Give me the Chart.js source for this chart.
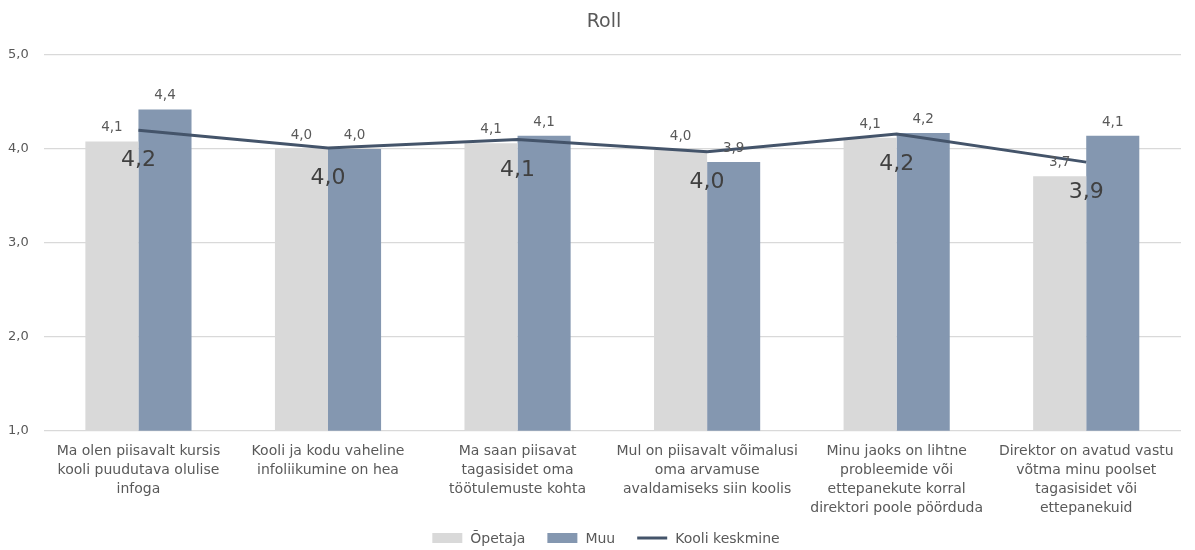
<!DOCTYPE html>
<html>
<head>
<meta charset="utf-8">
<script src="https://cdn.jsdelivr.net/npm/chart.js@4/dist/chart.umd.min.js"></script>
<style>
  html, body { margin: 0; padding: 0; background: #fff; }
  #wrap { width: 1195px; height: 550px; position: relative; }
</style>
</head>
<body>
<div id="wrap"><canvas id="chart"></canvas></div>
<script>
  // ── Data ──
  const categories = [
    ['Ma olen piisavalt kursis', 'kooli puudutava olulise', 'infoga'],
    ['Kooli ja kodu vaheline', 'infoliikumine on hea'],
    ['Ma saan piisavat', 'tagasisidet oma', 'töötulemuste kohta'],
    ['Mul on piisavalt võimalusi', 'oma arvamuse', 'avaldamiseks siin koolis'],
    ['Minu jaoks on lihtne', 'probleemide või', 'ettepanekute korral', 'direktori poole pöörduda'],
    ['Direktor on avatud vastu', 'võtma minu poolset', 'tagasisidet või', 'ettepanekuid']
  ];
  const opetaja = [4.08, 4.0, 4.06, 3.99, 4.12, 3.71];
  const muu = [4.42, 4.0, 4.14, 3.86, 4.17, 4.14];
  const kooliKeskmine = [4.2, 4.01, 4.1, 3.97, 4.16, 3.86];
  const yTicks = [1, 2, 3, 4, 5];
  const chartTitle = 'Roll';

  const FONT = '"DejaVu Sans", sans-serif';
  const fmt = v => v.toFixed(1).replace('.', ',');

  // value labels: small ones above bars, large ones under the line points
  const valueLabels = {
    id: 'valueLabels',
    afterDatasetsDraw(chart) {
      const ctx = chart.ctx;
      ctx.save();
      ctx.textAlign = 'center';
      ctx.textBaseline = 'alphabetic';
      chart.data.datasets.forEach((ds, i) => {
        const meta = chart.getDatasetMeta(i);
        meta.data.forEach((el, j) => {
          const v = ds.data[j];
          if (ds.type === 'line') {
            ctx.font = '22px ' + FONT;
            ctx.fillStyle = '#404040';
            ctx.fillText(fmt(v), el.x, el.y + 36);
          } else {
            ctx.font = '13.5px ' + FONT;
            ctx.fillStyle = '#595959';
            ctx.fillText(fmt(v), el.x, el.y - 10);
          }
        });
      });
      ctx.restore();
    }
  };

  // title + legend drawn by hand, placed like the Excel original
  const decorations = {
    id: 'decorations',
    afterDraw(chart) {
      const ctx = chart.ctx;
      ctx.save();
      ctx.font = '19px ' + FONT;
      ctx.fillStyle = '#595959';
      ctx.textAlign = 'center';
      ctx.textBaseline = 'middle';
      ctx.fillText(chartTitle, 604, 22);

      const dsList = [chart.data.datasets[1], chart.data.datasets[2], chart.data.datasets[0]];
      const y = 538, sym = 30, gapText = 8, gapItem = 22;
      ctx.font = '14px ' + FONT;
      ctx.textAlign = 'left';
      const widths = dsList.map(ds => sym + gapText + ctx.measureText(ds.label).width);
      const total = widths.reduce((a, b) => a + b, 0) + gapItem * (dsList.length - 1);
      let x = 606 - total / 2;
      dsList.forEach((ds, i) => {
        if (ds.type === 'line') {
          ctx.strokeStyle = ds.borderColor;
          ctx.lineWidth = 3;
          ctx.beginPath();
          ctx.moveTo(x, y);
          ctx.lineTo(x + sym, y);
          ctx.stroke();
        } else {
          ctx.fillStyle = ds.backgroundColor;
          ctx.fillRect(x, y - 5, sym, 10);
        }
        ctx.fillStyle = '#595959';
        ctx.fillText(ds.label, x + sym + gapText, y + 1);
        x += widths[i] + gapItem;
      });
      ctx.restore();
    }
  };

  new Chart(document.getElementById('chart'), {
    data: {
      labels: categories,
      datasets: [
        {
          type: 'line', label: 'Kooli keskmine', data: kooliKeskmine,
          borderColor: '#44546a', backgroundColor: '#44546a', borderWidth: 3,
          pointRadius: 0, tension: 0, order: 0
        },
        {
          type: 'bar', label: 'Õpetaja', data: opetaja,
          backgroundColor: '#d9d9d9', categoryPercentage: 0.56, barPercentage: 1, order: 1
        },
        {
          type: 'bar', label: 'Muu', data: muu,
          backgroundColor: '#8497b0', categoryPercentage: 0.56, barPercentage: 1, order: 1
        }
      ]
    },
    options: {
      responsive: true,
      maintainAspectRatio: false,
      animation: false,
      layout: { padding: { left: -7, right: 14, top: 55, bottom: 21 } },
      plugins: {
        legend: { display: false },
        tooltip: { enabled: false }
      },
      scales: {
        x: {
          grid: { display: false, drawTicks: false },
          border: { display: false },
          ticks: { color: '#595959', font: { family: FONT, size: 14, lineHeight: 1.36 }, maxRotation: 0, autoSkip: false, padding: 11 }
        },
        y: {
          min: 1, max: 5,
          afterBuildTicks: axis => { axis.ticks = yTicks.map(v => ({ value: v })); },
          grid: { color: '#d9d9d9', lineWidth: 1.2, drawTicks: false },
          border: { display: false },
          ticks: { color: '#595959', font: { family: FONT, size: 13 }, padding: 15, callback: v => fmt(v) }
        }
      }
    },
    plugins: [valueLabels, decorations]
  });
</script>
</body>
</html>
